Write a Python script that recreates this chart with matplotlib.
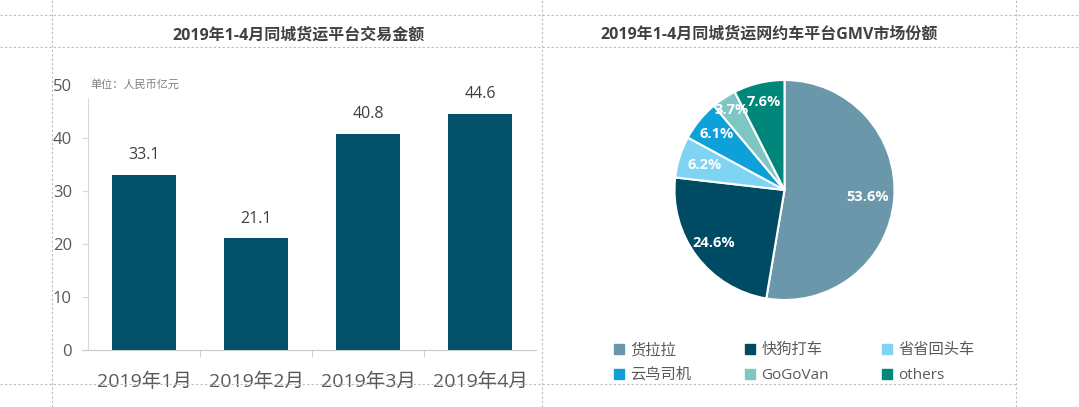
import matplotlib
matplotlib.use("Agg")
import matplotlib.pyplot as plt
from matplotlib.lines import Line2D
import numpy as np

plt.rcParams['font.family'] = ['Open Sans', 'Noto Sans CJK SC', 'DejaVu Sans']

# left chart: monthly trade volume (100m RMB)
months = ["2019年1月", "2019年2月", "2019年3月", "2019年4月"]
volumes = [33.1, 21.1, 40.8, 44.6]

# right chart: GMV market share
platforms = ["货拉拉", "快狗打车", "省省回头车", "云鸟司机", "GoGoVan", "others"]
shares = [53.6, 24.6, 6.2, 6.1, 3.7, 7.6]
share_labels = ["53.6%", "24.6%", "6.2%", "6.1%", "3.7%", "7.6%"]

bar_color = "#02506a"
pie_colors = ["#6a97aa", "#004b64", "#80d4f3", "#0ea0d9", "#7ec5c3", "#00867a"]
label_r = [0.76, 0.8, 0.76, 0.8, 0.87, 0.82]

W, H = 1079, 407
fig = plt.figure(figsize=(W / 100, H / 100), dpi=100)

# dashed guide lines of the slide
guide = dict(color="#bdbdbd", lw=0.8, ls=(0, (2, 2)))
for y in (15, 47):
    fig.add_artist(Line2D([0, 1], [1 - y / H, 1 - y / H], transform=fig.transFigure, **guide))
fig.add_artist(Line2D([0, 1016 / W], [1 - 384 / H, 1 - 384 / H], transform=fig.transFigure, **guide))
for x in (52, 542, 1016):
    fig.add_artist(Line2D([x / W, x / W], [0, 1], transform=fig.transFigure, **guide))

# ---- bar chart ----
ax = fig.add_axes([88 / W, 1 - 350 / H, 448 / W, 265 / H])
ax.bar(range(len(months)), volumes, width=0.57, color=bar_color)
for i, v in enumerate(volumes):
    ax.text(i, v + 2.2, f"{v}", ha="center", va="bottom", fontsize=11.5, color="#404040")
ax.set_xlim(-0.5, 3.5)
ax.set_ylim(0, 50)
ax.set_yticks(range(0, 51, 10))
ax.set_xticks(range(len(months)))
ax.set_xticklabels(months)
ax.set_xticks([0.5, 1.5, 2.5], minor=True)
for s in ("top", "right"):
    ax.spines[s].set_visible(False)
ax.spines["left"].set_color("#d9d9d9")
ax.spines["bottom"].set_color("#c8c8c8")
ax.spines["left"].set_bounds(0, 47.5)
ax.spines["bottom"].set_bounds(-0.55, 3.5)
ax.tick_params(axis="y", labelsize=12, labelcolor="#595959", color="#d9d9d9", length=4, pad=7.5)
ax.tick_params(axis="x", which="major", labelsize=14, labelcolor="#595959", length=0, pad=16)
ax.tick_params(axis="x", which="minor", color="#c8c8c8", length=5)
ax.yaxis.get_major_ticks()[-1].tick1line.set_visible(False)
ax.text(-0.48, 50, "单位：人民币亿元", fontsize=8, color="#7f7f7f", va="center", ha="left")

fig.text(299 / W, 1 - 36 / H, "2019年1-4月同城货运平台交易金额", ha="center", va="center",
         fontsize=11.5, fontweight="bold", color="#404040")

# ---- pie chart ----
r_px = 110
pax = fig.add_axes([(784.5 - r_px * 1.1) / W, 1 - (190 + r_px * 1.1) / H,
                    2.2 * r_px / W, 2.2 * r_px / H])
wedges, _ = pax.pie(shares, colors=pie_colors, startangle=90, counterclock=False,
                    wedgeprops=dict(edgecolor="white", linewidth=1.5))
pax.set_xlim(-1.1, 1.1)
pax.set_ylim(-1.1, 1.1)
for w, lab, r in zip(wedges, share_labels, label_r):
    ang = np.deg2rad((w.theta1 + w.theta2) / 2)
    pax.text(r * np.cos(ang), r * np.sin(ang), lab, ha="center", va="center",
             fontsize=10.5, fontweight="bold", color="white")

fig.text(769 / W, 1 - 35 / H, "2019年1-4月同城货运网约车平台GMV市场份额", ha="center", va="center",
         fontsize=11.5, fontweight="bold", color="#404040")

handles = [Line2D([], [], marker="s", ls="", markersize=7, color=c) for c in pie_colors]
order = [0, 3, 1, 4, 2, 5]
leg = fig.legend([handles[i] for i in order], [platforms[i] for i in order], ncol=3,
                 loc="center left", bbox_to_anchor=(613 / W, 1 - 363 / H), frameon=False,
                 fontsize=11, handlelength=0.8, handletextpad=0.35, columnspacing=3.4,
                 labelspacing=0.65, borderpad=0, borderaxespad=0)
for t in leg.get_texts():
    t.set_color("#595959")

fig.savefig("out.png", dpi=100)
